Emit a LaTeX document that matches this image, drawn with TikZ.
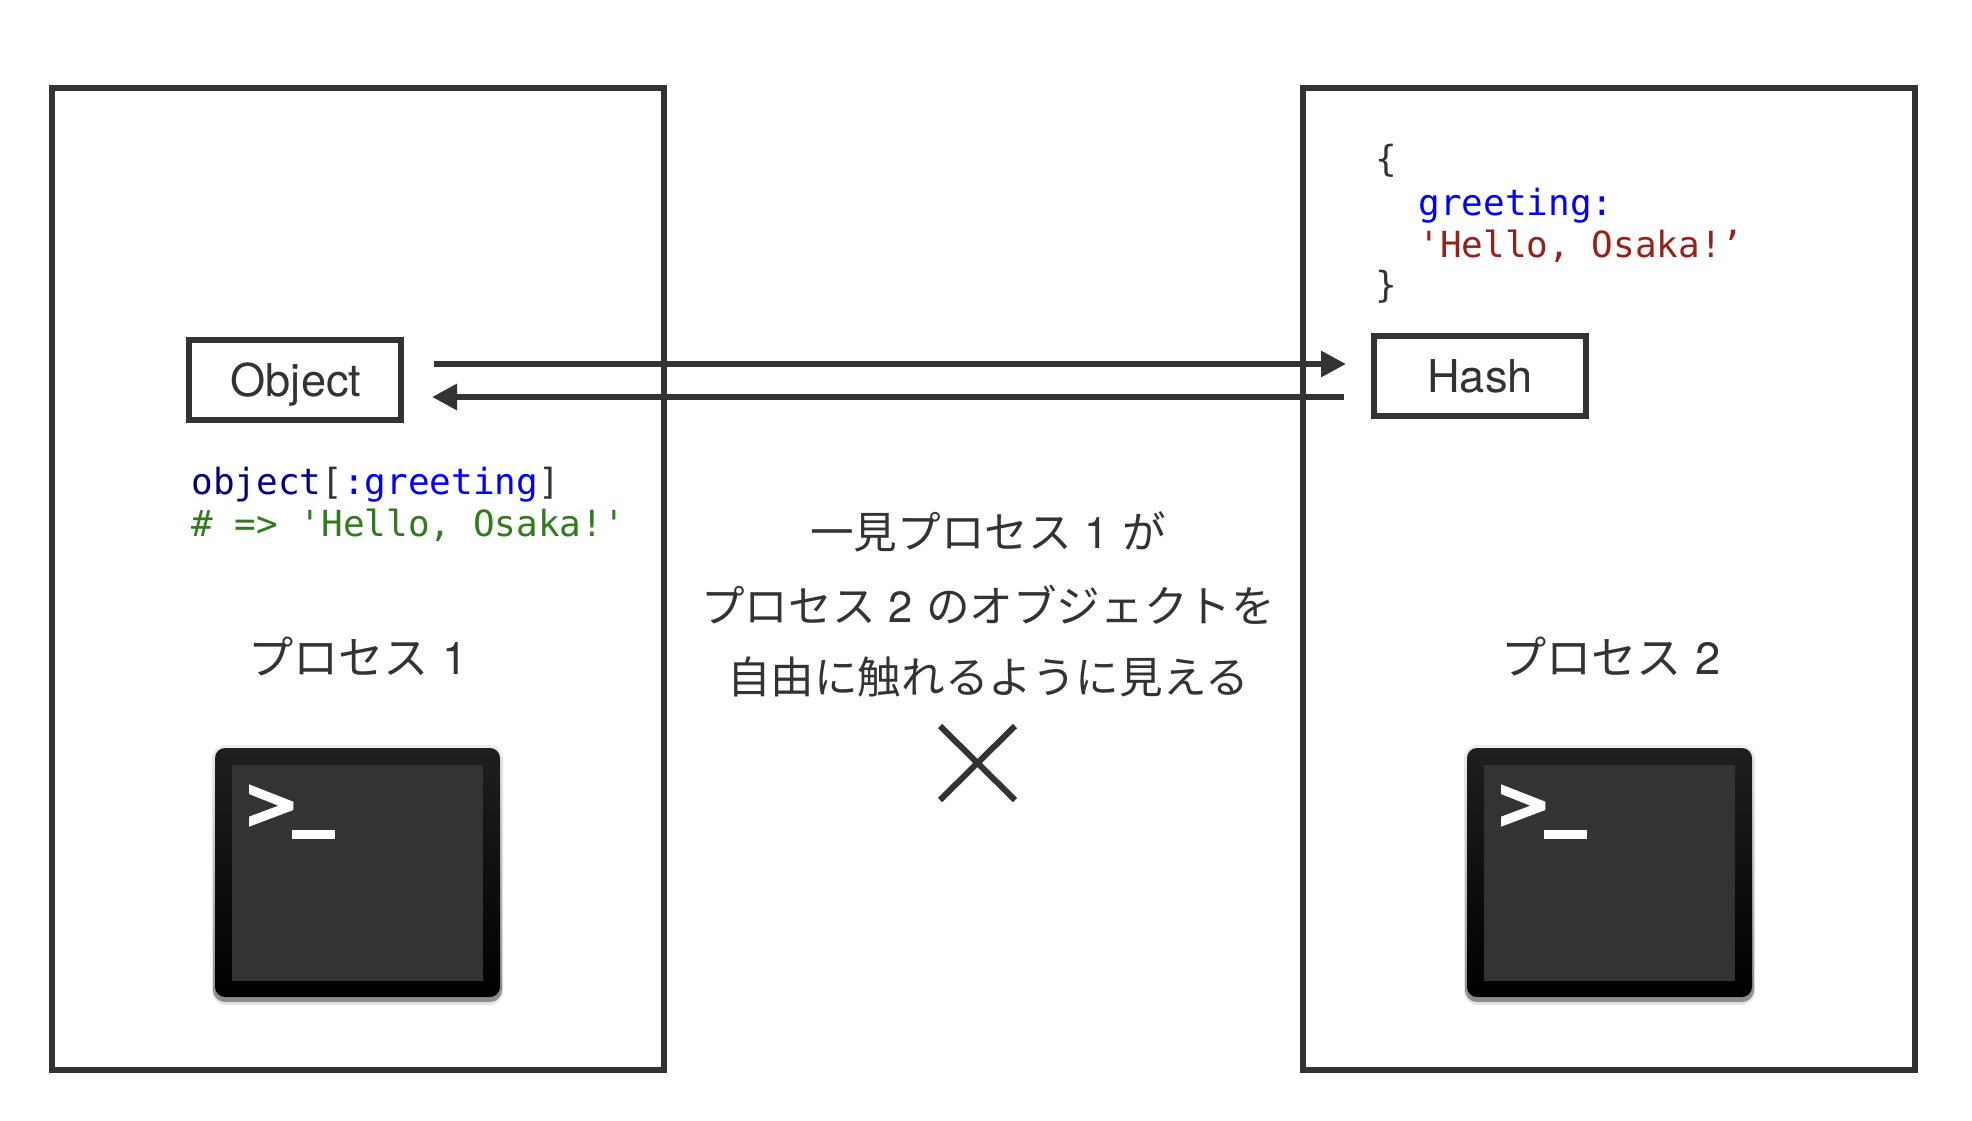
\documentclass[tikz,border=0pt]{standalone}
\usepackage{fontspec}
\setmainfont{TeX Gyre Heros}
\setmonofont{DejaVu Sans Mono}
\newfontfamily\cjk{Noto Sans CJK JP}
\newcommand{\jpnum}[1]{\hspace{.3em}{\rmfamily #1}\hspace{.3em}}
\usetikzlibrary{arrows.meta}
\definecolor{ink}{HTML}{333333}
\definecolor{kwblue}{HTML}{0000FF}
\definecolor{navy}{HTML}{000080}
\definecolor{strred}{HTML}{952118}
\definecolor{cmtgreen}{HTML}{327A1E}
\tikzset{
 x=0.5pt,y=-0.5pt,
 panel/.style={draw=ink,line width=3pt},
 objbox/.style={draw=ink,line width=3pt,minimum width=106pt,minimum height=40pt,inner sep=0pt,text=ink,text height=16pt,text depth=0pt,font=\fontsize{22.6}{22.6}\selectfont},
 flow/.style={draw=ink,line width=3pt,-{Triangle[length=12.5pt,width=12.5pt]}},
 code/.style={inner sep=0pt,anchor=base west,font=\ttfamily\fontsize{18}{18}\selectfont,text=ink},
 jp/.style={inner sep=0pt,anchor=base,text=ink,font=\cjk\fontsize{21.8}{21.8}\selectfont},
 jpbig/.style={jp,font=\cjk\fontsize{22.6}{22.6}\selectfont},
 cross/.style={draw=ink,line width=3pt},
 termglow/.style={fill=black!10,rounded corners=7pt},
 termedge/.style={top color=black!6,bottom color=black!45,rounded corners=6pt},
 termbody/.style={top color=black!88,bottom color=black,rounded corners=5pt},
 termscreen/.style={fill=ink},
}
\begin{document}
\begin{tikzpicture}
\useasboundingbox (0,0) rectangle (1972,1120);
\fill[white] (0,0) rectangle (1972,1120);
\draw[panel] (52,88) rectangle (664,1070);
\draw[panel] (1303,88) rectangle (1915,1070);
\node[objbox] (obj) at (295,380) {\hspace{1pt}Object};
\node[objbox] (hash) at (1480,376) {Hash};
\coordinate (a1s) at (434,364);
\coordinate (a1e) at (1346,364);
\coordinate (a2s) at (1344,397);
\coordinate (a2e) at (432,397);
\draw[flow] (a1s) -- (a1e);
\draw[flow] (a2s) -- (a2e);
\node[code,text=ink] (brace1) at (1375,171) {\{};
\node[code,text=kwblue] (key) at (1418,215) {greeting:};
\node[code,text=strred] (val) at (1418,257) {'Hello, Osaka!’};
\node[code,text=ink] (brace2) at (1375,297) {\}};
\node[code] (call) at (191,494.5) {\textcolor{navy}{object}[\textcolor{kwblue}{:greeting}]};
\node[code,text=cmtgreen] (cmt) at (191,536) {\# => 'Hello, Osaka!'};
\node[jpbig] (p1) at (358,674.5) {プロセス\jpnum{1}};
\node[jpbig] (p2) at (1611,674.5) {プロセス\jpnum{2}};
\node[jp] (t1) at (988,548) {一見プロセス\jpnum{1}が};
\node[jp] (t2) at (988,622) {プロセス\jpnum{2}のオブジェクトを};
\node[jp] (t3) at (988,693.5) {自由に触れるように見える};
\coordinate (c1) at (940,726);
\coordinate (c2) at (1015,800);
\coordinate (c3) at (1015,726);
\coordinate (c4) at (940,800);
\draw[cross] (c1) -- (c2);
\draw[cross] (c3) -- (c4);
% terminal 1
\fill[termglow] (212,745) rectangle (503,1005);
\path[termedge] (213,746) rectangle (502,1002);
\path[termbody] (215,748) rectangle (500,997);
\fill[termscreen] (232,765) rectangle (483,981);
\fill[white] (249,784.3) -- (293.3,801.7) -- (293.3,810) -- (249,826.7) -- (249,816.7) -- (278.3,805.7) -- (249,794) -- cycle;
\fill[white] (292.3,830) rectangle (334.7,839.3);
% terminal 2
\begin{scope}[xshift=626pt]
\fill[termglow] (212,745) rectangle (503,1005);
\path[termedge] (213,746) rectangle (502,1002);
\path[termbody] (215,748) rectangle (500,997);
\fill[termscreen] (232,765) rectangle (483,981);
\fill[white] (249,784.3) -- (293.3,801.7) -- (293.3,810) -- (249,826.7) -- (249,816.7) -- (278.3,805.7) -- (249,794) -- cycle;
\fill[white] (292.3,830) rectangle (334.7,839.3);
\end{scope}
\end{tikzpicture}
\end{document}
